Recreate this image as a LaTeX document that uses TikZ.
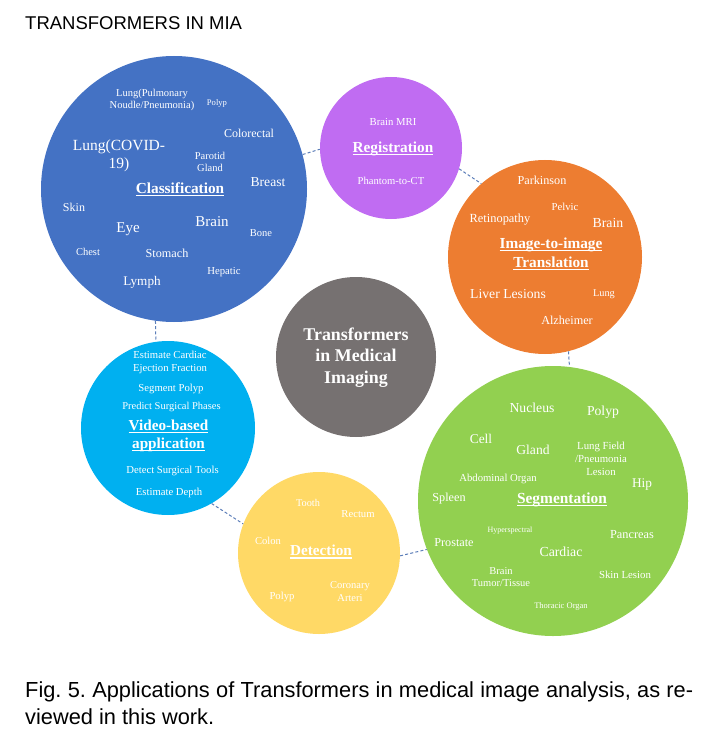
\documentclass[tikz,border=0pt]{standalone}
\usepackage{fontspec}
\setmainfont{Liberation Serif}
\newfontfamily\capfont{Liberation Sans}
\newcommand\fsz[2]{\fontsize{#1}{#2}\selectfont}
\newcommand\myul[1]{\setbox0\hbox{#1}\rlap{\rule[-2.6pt]{\wd0}{1.1pt}}\box0}
\frenchspacing
\definecolor{cblue}{HTML}{4472C4}
\definecolor{cpurp}{HTML}{C06CF2}
\definecolor{corng}{HTML}{ED7D31}
\definecolor{cgray}{HTML}{767171}
\definecolor{ccyan}{HTML}{00B0F0}
\definecolor{cyell}{HTML}{FFD966}
\definecolor{cgrn}{HTML}{92D050}
\definecolor{cconn}{HTML}{5B7DB8}
\tikzset{
  bub/.style={circle, inner sep=0pt, draw=none},
  lab/.style={text=white, inner sep=0pt, align=center},
  ttl/.style={lab, font=\bfseries\fsz{15.3}{19}},
  conn/.style={draw=cconn, dashed, dash pattern=on 3pt off 2.2pt, line width=1pt},
}
\begin{document}
\begin{tikzpicture}[x=1pt,y=-1pt]
\useasboundingbox (0,0) rectangle (718,730);
% title
\node[anchor=base west, inner sep=0pt, font=\capfont\fsz{18.5}{22}] (title) at (25,30) {TRANSFORMERS IN MIA};
% bubbles
\node[bub, fill=cblue, minimum size=266pt] (cls) at (174,189) {};
\node[bub, fill=cpurp, minimum size=142pt] (reg) at (391,148) {};
\node[bub, fill=corng, minimum size=194pt] (img) at (545,257) {};
\node[bub, fill=cgray, minimum size=160pt] (ctr) at (356,357) {};
\node[bub, fill=ccyan, minimum size=174pt] (vid) at (168,428) {};
\node[bub, fill=cyell, minimum size=162pt] (det) at (319,553) {};
\node[bub, fill=cgrn, minimum size=270pt] (seg) at (553,501) {};
% connectors
\draw[conn] (cls.15) -- (reg.181);
\draw[conn] (reg.-17) -- (img.131);
\draw[conn] (img.-76) -- (seg.83);
\draw[conn] (cls.-98) -- (vid.98);
\draw[conn] (vid.-60) -- (det.159);
\draw[conn] (det.-2) -- (seg.-159);
% classification
\node[lab, font=\fsz{10.5}{12.7}] (c1) at (152,100) {Lung(Pulmonary\\Noudle/Pneumonia)};
\node[lab, font=\fsz{8.6}{10}] (c2) at (217,103) {Polyp};
\node[lab, font=\fsz{12}{14}] (c3) at (249,133) {Colorectal};
\node[lab, font=\fsz{15.5}{18.3}] (c4) at (119,155.5) {Lung(COVID-\\19)};
\node[lab, font=\fsz{10.5}{12}] (c5) at (210,161.5) {Parotid\\Gland};
\node[ttl] (c6) at (180,189) {\myul{Classification}};
\node[lab, font=\fsz{13.6}{16}] (c7) at (268,182) {Breast};
\node[lab, font=\fsz{12}{14}] (c8) at (74,207) {Skin};
\node[lab, font=\fsz{15}{18}] (c9) at (128,229) {Eye};
\node[lab, font=\fsz{15}{18}] (c10) at (212,222) {Brain};
\node[lab, font=\fsz{10.5}{12}] (c11) at (261,233) {Bone};
\node[lab, font=\fsz{10.5}{12}] (c12) at (88,252) {Chest};
\node[lab, font=\fsz{12.2}{14}] (c13) at (167,253) {Stomach};
\node[lab, font=\fsz{10.7}{12}] (c14) at (224,272) {Hepatic};
\node[lab, font=\fsz{13.2}{15}] (c15) at (142,282) {Lymph};
% registration
\node[lab, font=\fsz{10.7}{12}] (r1) at (393,122) {Brain MRI};
\node[ttl] (r2) at (393,149) {\myul{Registration}};
\node[lab, font=\fsz{10.6}{12}] (r3) at (391,181) {Phantom-to-CT};
% image-to-image
\node[lab, font=\fsz{12.2}{14}] (i1) at (542,180) {Parkinson};
\node[lab, font=\fsz{10.7}{12}] (i2) at (565,207) {Pelvic};
\node[lab, font=\fsz{12.4}{14}] (i3) at (500,220) {Retinopathy};
\node[lab, font=\fsz{13.8}{16}] (i4) at (608,223) {Brain};
\node[ttl] (i5) at (551,254) {\myul{Image-to-image}\\\myul{Translation}};
\node[lab, font=\fsz{13.7}{16}] (i6) at (508,294.5) {Liver Lesions};
\node[lab, font=\fsz{10.3}{12}] (i7) at (604,294.5) {Lung};
\node[lab, font=\fsz{12.2}{14}] (i8) at (567,320) {Alzheimer};
% center
\node[lab, font=\bfseries\fsz{17.9}{21.8}] (t1) at (356,357.5) {Transformers\\in Medical\\Imaging};
% video
\node[lab, font=\fsz{10.7}{13.3}] (v1) at (170,362.5) {Estimate Cardiac\\Ejection Fraction};
\node[lab, font=\fsz{10.7}{12}] (v2) at (171,388.5) {Segment Polyp};
\node[lab, font=\fsz{10.5}{12}] (v3) at (171.5,407) {Predict Surgical Phases};
\node[ttl, font=\bfseries\fsz{15.2}{18.3}] (v4) at (168.5,436) {\myul{Video-based}\\\myul{application}};
\node[lab, font=\fsz{10.7}{12}] (v5) at (172.5,471) {Detect Surgical Tools};
\node[lab, font=\fsz{10.7}{12}] (v6) at (169,492.5) {Estimate Depth};
% detection
\node[lab, font=\fsz{10.3}{12}] (d1) at (308,502.5) {Tooth};
\node[lab, font=\fsz{10.7}{12}] (d2) at (358,514.5) {Rectum};
\node[lab, font=\fsz{10.6}{12}] (d3) at (268,541) {Colon};
\node[ttl, font=\bfseries\fsz{15.2}{18}] (d4) at (321,552) {\myul{Detection}};
\node[lab, font=\fsz{10.5}{12.7}] (d5) at (350,591.5) {Coronary\\Arteri};
\node[lab, font=\fsz{10.7}{12}] (d6) at (282,597) {Polyp};
% segmentation
\node[lab, font=\fsz{13.7}{16}] (s1) at (532,407.5) {Nucleus};
\node[lab, font=\fsz{13.7}{16}] (s2) at (603,412) {Polyp};
\node[lab, font=\fsz{13.4}{16}] (s3) at (481,438.5) {Cell};
\node[lab, font=\fsz{13.6}{16}] (s4) at (533,449.5) {Gland};
\node[lab, font=\fsz{10.8}{13}] (s5) at (601,458.7) {Lung Field\\/Pneumonia\\Lesion};
\node[lab, font=\fsz{10.7}{12}] (s6) at (498,478.5) {Abdominal Organ};
\node[lab, font=\fsz{13.3}{16}] (s7) at (642,485) {Hip};
\node[lab, font=\fsz{12.2}{14}] (s8) at (449,498.5) {Spleen};
\node[ttl, font=\bfseries\fsz{15.4}{18}] (s9) at (562,500) {\myul{Segmentation}};
\node[lab, font=\fsz{8}{10}] (s10) at (510,530.5) {Hyperspectral};
\node[lab, font=\fsz{12.3}{14}] (s11) at (632,534.5) {Pancreas};
\node[lab, font=\fsz{12.2}{14}] (s12) at (454,542.5) {Prostate};
\node[lab, font=\fsz{13.8}{16}] (s13) at (561,552) {Cardiac};
\node[lab, font=\fsz{10.5}{12.6}] (s14) at (501,577) {Brain\\Tumor/Tissue};
\node[lab, font=\fsz{10.8}{12}] (s15) at (625,575) {Skin Lesion};
\node[lab, font=\fsz{8.5}{10}] (s16) at (561,606) {Thoracic Organ};
% caption
\node[anchor=base west, inner sep=0pt, font=\capfont\fsz{21.8}{27}] (cap1) at (25,697) {\hbox to 668pt{Fig. 5. Applications of Transformers in medical image analysis, as re-}};
\node[anchor=base west, inner sep=0pt, font=\capfont\fsz{21.8}{27}] (cap2) at (25,724) {viewed in this work.};
\end{tikzpicture}
\end{document}
